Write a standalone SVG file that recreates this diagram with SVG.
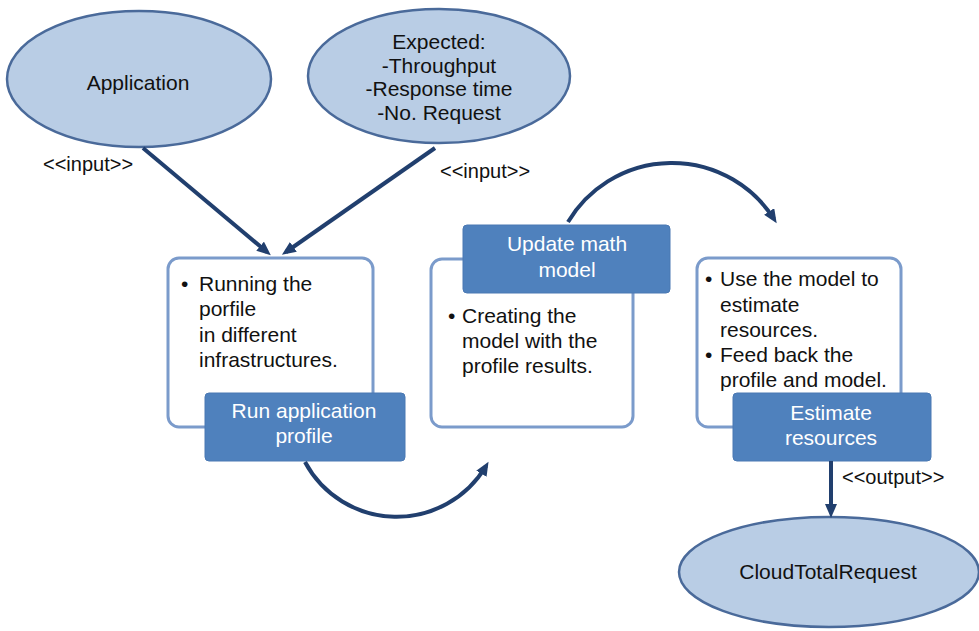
<svg xmlns="http://www.w3.org/2000/svg" width="979" height="631" viewBox="0 0 979 631">
<style>
text{font-family:"Liberation Sans",Arial,sans-serif;font-size:21px;fill:#111}
.ell{fill:#b9cde5;stroke:#4a6a9a;stroke-width:2.5}
.card{fill:#fff;stroke:#7b9bcb;stroke-width:3}
.tag{fill:#4f81bd;stroke:#4a78b3;stroke-width:1}
.wt{fill:#fff;text-anchor:middle}
.ct{text-anchor:middle}
.lbl{font-size:20px}
.con{fill:none;stroke:#213f6e;stroke-width:4}
</style>
<defs>
<marker id="ah" markerUnits="userSpaceOnUse" markerWidth="16" markerHeight="14" refX="9" refY="6" orient="auto">
<path d="M0,0 L14,6 L0,12 z" fill="#213f6e"/>
</marker>
</defs>
<rect width="979" height="631" fill="#fff"/>

<g id="application">
<ellipse class="ell" cx="139" cy="79" rx="132" ry="68"/>
<text class="ct" x="138" y="90">Application</text>
</g>

<g id="expected">
<ellipse class="ell" cx="439" cy="76" rx="131" ry="67"/>
<text class="ct" x="439" y="49">Expected:</text>
<text class="ct" x="439" y="73">-Throughput</text>
<text class="ct" x="439" y="96">-Response time</text>
<text class="ct" x="439" y="120">-No. Request</text>
</g>

<g id="run-profile">
<rect class="card" x="168" y="258" width="205" height="169" rx="11"/>
<text x="181" y="291">•</text>
<text x="199" y="291">Running the</text>
<text x="199" y="316">porfile</text>
<text x="199" y="342">in different</text>
<text x="199" y="367">infrastructures.</text>
<rect class="tag" x="205" y="393" width="200" height="68" rx="4"/>
<text class="wt" x="304" y="418">Run application</text>
<text class="wt" x="304" y="443">profile</text>
</g>

<g id="update-model">
<rect class="card" x="431" y="259" width="202" height="168" rx="11"/>
<text x="448" y="323">•</text>
<text x="462" y="323">Creating the</text>
<text x="462" y="348">model with the</text>
<text x="462" y="373">profile results.</text>
<rect class="tag" x="463" y="225" width="207" height="68" rx="4"/>
<text class="wt" x="567" y="251">Update math</text>
<text class="wt" x="567" y="277">model</text>
</g>

<g id="estimate">
<rect class="card" x="697" y="258" width="204" height="169" rx="11"/>
<text x="705" y="286">•</text>
<text x="720" y="286">Use the model to</text>
<text x="720" y="312">estimate</text>
<text x="720" y="337">resources.</text>
<text x="705" y="362">•</text>
<text x="720" y="362">Feed back the</text>
<text x="720" y="387">profile and model.</text>
<rect class="tag" x="733" y="393" width="198" height="68" rx="4"/>
<text class="wt" x="831" y="420">Estimate</text>
<text class="wt" x="831" y="445">resources</text>
</g>

<g id="cloud-total-request">
<ellipse class="ell" cx="829" cy="572" rx="150" ry="55"/>
<text class="ct" x="828" y="579">CloudTotalRequest</text>
</g>

<g id="connectors">
<path class="con" d="M143,148 L267,252" marker-end="url(#ah)"/>
<path class="con" d="M435,148 L286,252" marker-end="url(#ah)"/>
<path class="con" d="M305,462 A104,104 0 0 0 486,466" marker-end="url(#ah)"/>
<path class="con" d="M568,222 A121,121 0 0 1 774,219" marker-end="url(#ah)"/>
<path class="con" d="M831,461 L831,513" marker-end="url(#ah)"/>
<text class="lbl" x="43" y="171">&lt;&lt;input&gt;&gt;</text>
<text class="lbl" x="440" y="178">&lt;&lt;input&gt;&gt;</text>
<text class="lbl" x="842" y="484">&lt;&lt;output&gt;&gt;</text>
</g>
</svg>
